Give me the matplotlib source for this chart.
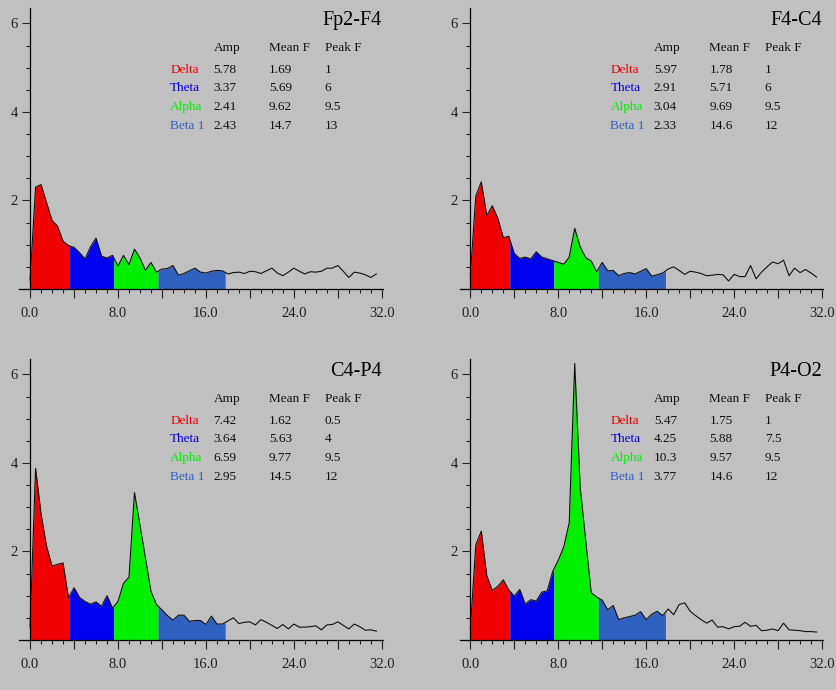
#!/usr/bin/env python3
"""EEG band power spectra, four channels, band-coloured area under the curve."""

import numpy as np
import matplotlib

matplotlib.use("Agg")
import matplotlib.pyplot as plt
from matplotlib.ticker import MultipleLocator

# frequency grid of the spectra (Hz)
FREQ = np.arange(0.0, 32.0, 0.5)

CHANNELS = ["Fp2-F4", "F4-C4", "C4-P4", "P4-O2"]

FP2_F4 = [
    0.20, 2.30, 2.36, 1.95, 1.55, 1.42, 1.08, 0.98,
    0.94, 0.82, 0.68, 0.95, 1.15, 0.74, 0.70, 0.76,
    0.52, 0.76, 0.55, 0.90, 0.70, 0.42, 0.60, 0.38,
    0.45, 0.46, 0.53, 0.31, 0.35, 0.41, 0.47, 0.38, 0.36, 0.40, 0.42, 0.41,
    0.34, 0.37, 0.38, 0.35, 0.40, 0.39, 0.35, 0.41, 0.47, 0.36, 0.30, 0.38,
    0.47, 0.40, 0.34, 0.39, 0.38, 0.40, 0.47, 0.47, 0.53, 0.40, 0.26, 0.38,
    0.36, 0.32, 0.26, 0.34,
]
F4_C4 = [
    0.30, 2.10, 2.42, 1.66, 1.88, 1.60, 1.16, 1.19,
    0.80, 0.69, 0.72, 0.68, 0.84, 0.72, 0.68, 0.64,
    0.60, 0.56, 0.72, 1.37, 0.95, 0.71, 0.63, 0.39,
    0.60, 0.41, 0.42, 0.30, 0.35, 0.37, 0.34, 0.40, 0.46, 0.29, 0.32, 0.36,
    0.45, 0.50, 0.42, 0.33, 0.40, 0.38, 0.35, 0.30, 0.31, 0.33, 0.32, 0.18,
    0.33, 0.28, 0.28, 0.53, 0.23, 0.38, 0.50, 0.61, 0.57, 0.65, 0.30, 0.47,
    0.37, 0.44, 0.36, 0.27,
]
C4_P4 = [
    0.30, 3.88, 2.85, 2.12, 1.67, 1.71, 1.74, 0.95,
    1.18, 0.96, 0.87, 0.81, 0.86, 0.76, 1.00, 0.72,
    0.87, 1.28, 1.42, 3.33, 2.60, 1.85, 1.10, 0.80,
    0.68, 0.55, 0.45, 0.56, 0.56, 0.42, 0.44, 0.44, 0.35, 0.54, 0.36, 0.36,
    0.43, 0.50, 0.37, 0.40, 0.41, 0.34, 0.46, 0.40, 0.33, 0.26, 0.35, 0.25,
    0.36, 0.29, 0.29, 0.30, 0.32, 0.23, 0.34, 0.35, 0.41, 0.33, 0.25, 0.36,
    0.30, 0.22, 0.23, 0.20,
]
P4_O2 = [
    0.25, 2.15, 2.46, 1.45, 1.12, 1.21, 1.36, 1.13,
    0.99, 1.14, 0.81, 0.91, 0.88, 1.08, 1.11, 1.55,
    1.80, 2.10, 2.65, 6.25, 3.45, 2.25, 1.07, 0.97,
    0.90, 0.68, 0.78, 0.46, 0.50, 0.53, 0.56, 0.64, 0.46, 0.58, 0.65, 0.55,
    0.70, 0.57, 0.80, 0.84, 0.65, 0.55, 0.46, 0.38, 0.45, 0.29, 0.30, 0.25,
    0.30, 0.31, 0.40, 0.31, 0.33, 0.21, 0.22, 0.25, 0.21, 0.38, 0.23, 0.22,
    0.21, 0.19, 0.19, 0.18,
]

BANDS = ["Delta", "Theta", "Alpha", "Beta 1"]
BAND_EDGES = [0.0, 3.6, 7.6, 11.65, 17.75]
BAND_COLORS = ["#F00000", "#0000F0", "#00F000", "#3060C0"]

# per channel table: Amp, Mean F, Peak F for each band
AMP = [
    ["5.78", "3.37", "2.41", "2.43"],
    ["5.97", "2.91", "3.04", "2.33"],
    ["7.42", "3.64", "6.59", "2.95"],
    ["5.47", "4.25", "10.3", "3.77"],
]
MEAN_F = [
    ["1.69", "5.69", "9.62", "14.7"],
    ["1.78", "5.71", "9.69", "14.6"],
    ["1.62", "5.63", "9.77", "14.5"],
    ["1.75", "5.88", "9.57", "14.6"],
]
PEAK_F = [
    ["1", "6", "9.5", "13"],
    ["1", "6", "9.5", "12"],
    ["0.5", "4", "9.5", "12"],
    ["1", "7.5", "9.5", "12"],
]

BG = "#C0C0C0"
SERIF = "Liberation Serif"


def draw_panel(ax, idx, amps):
    amps = np.asarray(amps)
    ax.set_facecolor(BG)
    for lo, hi, color in zip(BAND_EDGES[:-1], BAND_EDGES[1:], BAND_COLORS):
        inner = FREQ[(FREQ > lo) & (FREQ < hi)]
        xs = np.concatenate([[lo], inner, [hi]])
        ys = np.interp(xs, FREQ, amps)
        ax.fill_between(xs, 0, ys, color=color, lw=0, zorder=1)
    ax.plot(FREQ, amps, color="#101010", lw=0.8, zorder=2)

    ax.set_xlim(-0.97, 32.1)
    ax.set_ylim(0, 6.35)
    for side in ("top", "right"):
        ax.spines[side].set_visible(False)
    ax.spines["left"].set_position(("data", 0))
    ax.spines["left"].set_bounds(0, 6.35)
    ax.spines["left"].set_linewidth(0.9)
    ax.spines["bottom"].set_linewidth(0.9)

    ax.set_xticks(np.arange(0, 33, 4))
    ax.set_xticklabels([f"{v:.1f}" if v % 8 == 0 else "" for v in range(0, 33, 4)])
    ax.xaxis.set_minor_locator(MultipleLocator(1))
    ax.set_yticks([2, 4, 6])
    ax.set_yticklabels(["2", "4", "6"])
    ax.yaxis.set_minor_locator(MultipleLocator(0.5))
    ax.tick_params(which="major", length=6.2, width=0.8, color="#202020",
                   labelsize=10.5, pad=6.5)
    ax.tick_params(axis="y", which="major", length=5.5, pad=3.5)
    ax.tick_params(which="minor", length=3.0, width=0.8, color="#202020")
    for lab in ax.get_xticklabels() + ax.get_yticklabels():
        lab.set_fontfamily(SERIF)
        lab.set_color("#202020")

    ax.text(32, 6.06, CHANNELS[idx], ha="right", va="center",
            fontsize=14.5, family=SERIF, color="black")
    cols = [16.7, 21.75, 26.8]
    for x, head in zip(cols, ["Amp", "Mean F", "Peak F"]):
        ax.text(x, 5.45, head, ha="left", va="center", fontsize=9.5,
                family=SERIF, color="#101010")
    row_y = [4.96, 4.54, 4.11, 3.69]
    for k, band in enumerate(BANDS):
        y = row_y[k]
        ax.text(12.75, y, band, ha="left", va="center", fontsize=9.5,
                family=SERIF, color=BAND_COLORS[k])
        for x, val in zip(cols, [AMP[idx][k], MEAN_F[idx][k], PEAK_F[idx][k]]):
            ax.text(x, y, val, ha="left", va="center", fontsize=9.5,
                    family=SERIF, color="#101010")


def main():
    fig = plt.figure(figsize=(8.36, 6.9), dpi=100, facecolor=BG)
    w, h = 0.4348, 0.4072
    positions = [
        (0.0232, 0.5812),
        (0.5498, 0.5812),
        (0.0232, 0.0725),
        (0.5498, 0.0725),
    ]
    for idx, (amps, (left, bottom)) in enumerate(zip([FP2_F4, F4_C4, C4_P4, P4_O2], positions)):
        ax = fig.add_axes([left, bottom, w, h])
        draw_panel(ax, idx, amps)
    fig.savefig("out.png", dpi=100, facecolor=BG)


if __name__ == "__main__":
    main()
